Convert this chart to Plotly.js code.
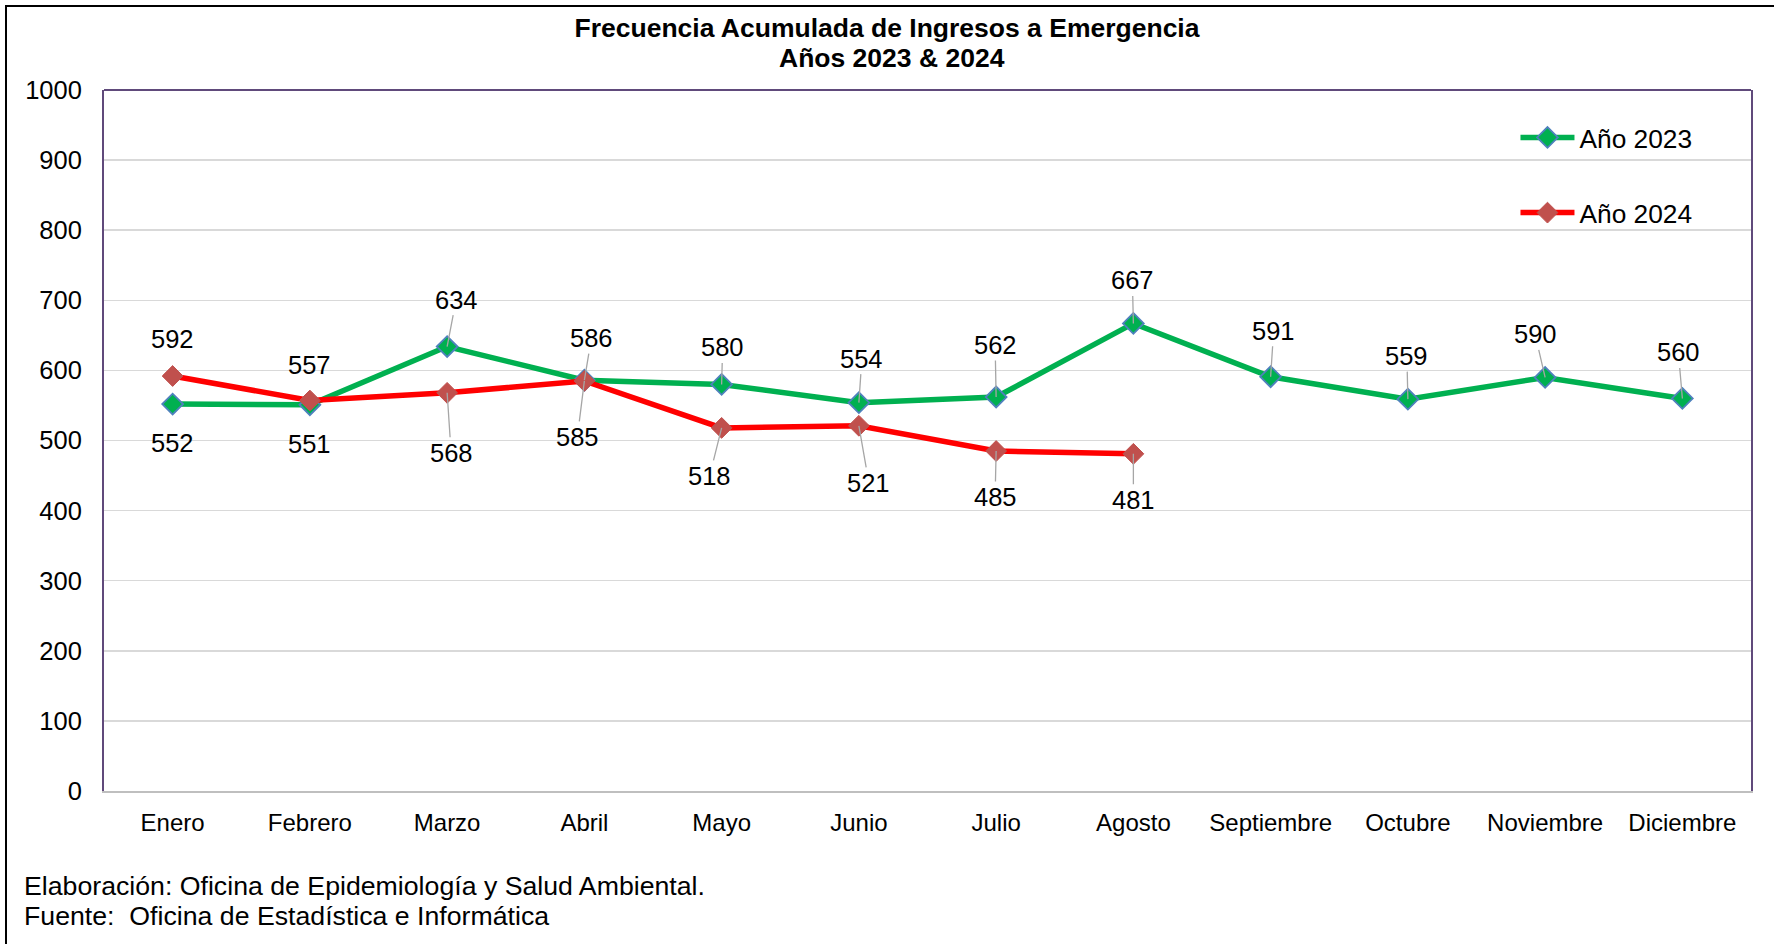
<!DOCTYPE html>
<html>
<head>
<meta charset="utf-8">
<script src="https://cdn.plot.ly/plotly-3.0.1.min.js"></script>
<style>
  html, body { margin: 0; padding: 0; background: #fff; }
  #wrap { position: relative; width: 1774px; height: 944px; }
  #chart { position: absolute; left: 0; top: 0; width: 1774px; height: 944px; }
  #frame { position: absolute; left: 5px; top: 5px; width: 1769px; height: 939px;
           border-left: 2px solid #000; border-top: 2px solid #000; pointer-events: none; box-sizing: border-box; }
</style>
</head>
<body>
<div id="wrap">
  <div id="chart"></div>
  <div id="frame"></div>
</div>
<script>
// ---- data ----
const months = ["Enero", "Febrero", "Marzo", "Abril", "Mayo", "Junio", "Julio", "Agosto",
                "Septiembre", "Octubre", "Noviembre", "Diciembre"];
const values2023 = [552, 551, 634, 586, 580, 554, 562, 667, 591, 559, 590, 560];
const values2024 = [592, 557, 568, 585, 518, 521, 485, 481];
const seriesNames = ["Año 2023", "Año 2024"];
const yTicks = [0, 100, 200, 300, 400, 500, 600, 700, 800, 900, 1000];
const titleLines = ["Frecuencia Acumulada de Ingresos a Emergencia", "Años 2023 & 2024"];
const footer1 = "Elaboración: Oficina de Epidemiología y Salud Ambiental.";
const footer2 = "Fuente:  Oficina de Estadística e Informática";

// ---- label placement (pixel offsets from each point: [dx, dy, leaderLine]) ----
const labelPos2023 = [[0,39,false],[0,39,false],[9,-47,true],[7,-42,true],[1,-37,true],[3,-44,true],
                      [-1,-52,true],[-1,-43,true],[3,-46,true],[-1,-43,true],[-10,-43,true],[-4,-46,true]];
const labelPos2024 = [[0,-37,false],[0,-36,false],[4,60,true],[-7,56,true],[-12,48,true],[10,57,true],
                      [-1,46,true],[0,46,true]];

const FONT = "Liberation Sans, Arial, sans-serif";
const GREEN = "#00B050", RED = "#FF0000", PURPLE = "#604A7B";

const traces = [
  {
    x: months, y: values2023, name: seriesNames[0], type: "scatter", mode: "lines+markers",
    legendgroup: "a",
    line: { color: GREEN, width: 5.5 },
    marker: { symbol: "diamond", size: 16, color: GREEN, line: { color: "#4F81BD", width: 1.8 } },
    hoverinfo: "x+y"
  },
  {
    x: months.slice(0, values2024.length), y: values2024, name: seriesNames[1], type: "scatter", mode: "lines+markers",
    legendgroup: "b",
    line: { color: RED, width: 5.5 },
    marker: { symbol: "diamond", size: 16, color: "#C0504D", line: { color: "#C0504D", width: 1 } },
    hoverinfo: "x+y"
  }
];

function makeLabels(xs, ys, pos) {
  return ys.map((v, i) => {
    const p = pos[i];
    const a = {
      x: xs[i], y: v, xref: "x", yref: "y", text: String(v),
      font: { family: FONT, size: 25.5, color: "#000" }
    };
    if (p[2]) {
      Object.assign(a, { showarrow: true, ax: p[0], ay: p[1], axref: "pixel", ayref: "pixel",
        arrowhead: 0, arrowwidth: 1.3, arrowcolor: "#A6A6A6", standoff: 0, startstandoff: 0 });
    } else {
      Object.assign(a, { showarrow: false, xshift: p[0], yshift: -p[1] });
    }
    return a;
  });
}

const annotations = []
  .concat(makeLabels(months, values2023, labelPos2023))
  .concat(makeLabels(months, values2024, labelPos2024))
  .concat([
    { xref: "paper", yref: "paper", x: 0.4785, y: 1.0456, xanchor: "center", yanchor: "middle",
      showarrow: false, text: "<b>" + titleLines[1] + "</b>",
      font: { family: FONT, size: 26.5, color: "#000" } },
    { xref: "paper", yref: "paper", x: -0.0495, y: -0.135, xanchor: "left", yanchor: "middle",
      showarrow: false, text: footer1, font: { family: FONT, size: 26.7, color: "#000" } },
    { xref: "paper", yref: "paper", x: -0.0495, y: -0.179, xanchor: "left", yanchor: "middle",
      showarrow: false, text: footer2, font: { family: FONT, size: 26.7, color: "#000" } }
  ]);

const layout = {
  width: 1774, height: 944,
  margin: { l: 104, r: 23, t: 90, b: 153 },
  paper_bgcolor: "#fff", plot_bgcolor: "#fff",
  font: { family: FONT, color: "#000" },
  title: {
    text: "<b>" + titleLines[0] + "</b>",
    font: { family: FONT, size: 26.5, color: "#000" },
    x: 0.5, xref: "container", xanchor: "center",
    y: 0.9703, yref: "container", yanchor: "middle"
  },
  xaxis: {
    type: "category", range: [-0.5, 11.5],
    showgrid: false, showline: true, linecolor: "#BFBFBF", linewidth: 2,
    ticks: "", ticklabelstandoff: 9,
    tickfont: { family: FONT, size: 24, color: "#000" },
    fixedrange: true
  },
  yaxis: {
    range: [0, 1000], tickvals: yTicks, ticktext: yTicks.map(String),
    showgrid: true, gridcolor: "#D9D9D9", gridwidth: 1.5,
    zeroline: false, showline: true, linecolor: PURPLE, linewidth: 2, mirror: true,
    ticks: "", ticklabelstandoff: 15,
    tickfont: { family: FONT, size: 25.5, color: "#000" },
    fixedrange: true
  },
  shapes: [
    { type: "line", xref: "paper", yref: "paper", x0: 0, x1: 1, y0: 1, y1: 1,
      line: { color: PURPLE, width: 2 } }
  ],
  showlegend: true,
  legend: {
    x: 0.857, y: 0.966, xanchor: "left", yanchor: "top",
    bgcolor: "rgba(0,0,0,0)", borderwidth: 0,
    font: { family: FONT, size: 26.3, color: "#000" },
    tracegroupgap: 38, itemwidth: 54
  },
  annotations: annotations
};

Plotly.newPlot("chart", traces, layout, { displayModeBar: false, staticPlot: true });
</script>
</body>
</html>
